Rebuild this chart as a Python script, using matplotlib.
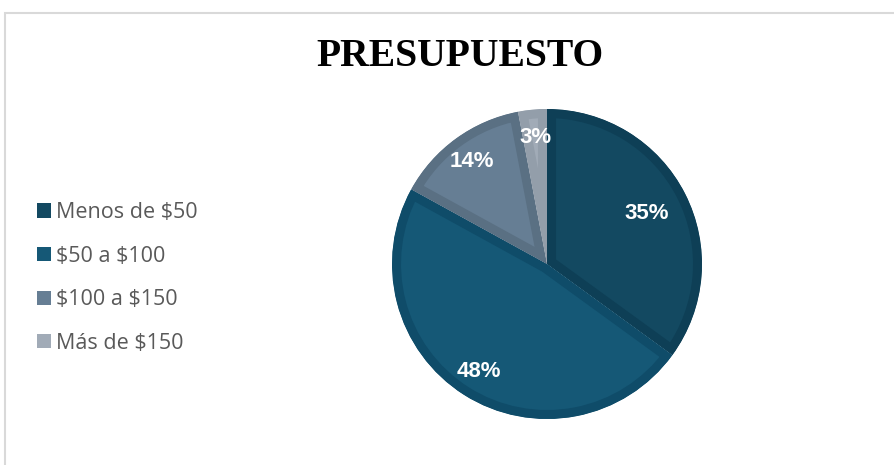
import matplotlib
matplotlib.use("Agg")
from matplotlib import pyplot as plt
from matplotlib.patches import Patch, Rectangle

categories = ["Menos de \\$50", "\\$50 a \\$100", "\\$100 a \\$150", "Más de \\$150"]
values = [35, 48, 14, 3]
fill_colors = ["#134961", "#155876", "#667e94", "#a1abb7"]
edge_colors = ["#0e3f56", "#0f4c69", "#5a7083", "#939eaa"]
title = "PRESUPUESTO"

W, H = 894, 465
fig = plt.figure(figsize=(W / 100, H / 100), dpi=100)

# light grey chart frame (runs off the right and bottom edges)
fig.patches.append(Rectangle((5 / W, -0.1), 1.0, 1 - 13 / H + 0.1,
                             transform=fig.transFigure, fill=False,
                             edgecolor="#d9d9d9", linewidth=1.5))

cx, cy, r = 547, 264, 155
ax = fig.add_axes([(cx - r) / W, (H - cy - r) / H, 2 * r / W, 2 * r / H])

wedges, texts, autotexts = ax.pie(
    values, colors=fill_colors, startangle=90, counterclock=False,
    autopct=lambda p: f"{p:.0f}%", pctdistance=0.82,
    textprops=dict(color="white", fontsize=16, fontweight="bold",
                   family="Liberation Sans"))
for w, ec in zip(wedges, edge_colors):
    # inset border: thick edge clipped to the wedge itself
    w.set_edgecolor(ec)
    w.set_linewidth(13)
    w.set_joinstyle("miter")
    w.set_clip_path(w)
    w.set_clip_on(True)
x0, y0 = autotexts[0].get_position()
autotexts[0].set_position((x0 * 0.72 / 0.82, y0 * 0.72 / 0.82))
ax.set_xlim(-1.0, 1.0)
ax.set_ylim(-1.0, 1.0)
ax.set_aspect("equal")
ax.axis("off")

fig.text(460 / W, 1 - 56 / H, title, ha="center", va="center",
         family="Liberation Serif", fontweight="bold", fontsize=28.5)

handles = [Patch(facecolor=c, edgecolor="none") for c in fill_colors]
fig.legend(handles, categories, loc="center left",
           bbox_to_anchor=(37 / W, 1 - 278 / H), frameon=False,
           prop=dict(family="Open Sans", size=15.5), labelcolor="#595959",
           handlelength=0.63, handleheight=0.63, handletextpad=0.25,
           labelspacing=1.05, borderpad=0, borderaxespad=0)

fig.savefig("out.png", dpi=100)
